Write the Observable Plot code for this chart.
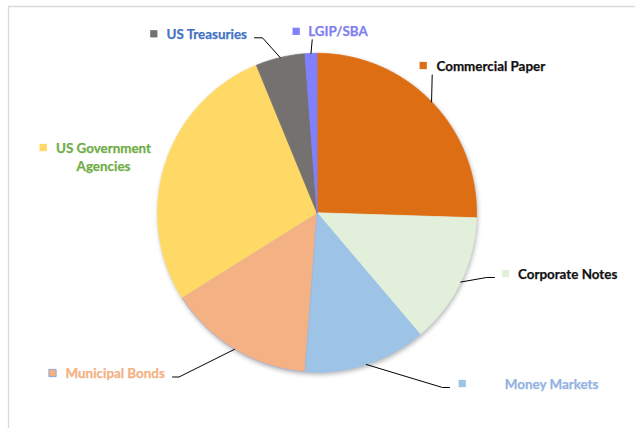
<!DOCTYPE html>
<html>
<head>
<meta charset="utf-8">
<script src="https://cdn.jsdelivr.net/npm/d3@7"></script>
<script src="https://cdn.jsdelivr.net/npm/@observablehq/plot@0.6"></script>
<style>
  html, body { margin: 0; padding: 0; background: #fff; }
  #chart { width: 635px; height: 428px; }
</style>
</head>
<body>
<div id="chart"></div>
<script>
// ---- data ----
const categories = ["Commercial Paper", "Corporate Notes", "Money Markets", "Municipal Bonds", "US Government Agencies", "US Treasuries", "LGIP/SBA"];
const shares = [25.5, 13.3, 12.4, 14.9, 27.7, 5.0, 1.2];
const sliceColors = ["#DD6E13", "#E2EFDA", "#9DC3E6", "#F4B183", "#FFD966", "#767171", "#8080FF"];
const sliceStrokes = ["#DD6E13", "#E2EFDA", "#9DC3E6", "#9DB4E4", "#FFD966", "#767171", "#8080FF"];
const labelColors = ["#111111", "#111111", "#94B2E2", "#F4B183", "#70AD47", "#4472C4", "#7F7FEF"];
const labelTexts = ["Commercial Paper", "Corporate Notes", "Money Markets", "Municipal Bonds", "US Government\nAgencies", "US Treasuries", "LGIP/SBA"];

// ---- layout (pixels) ----
const W = 635, H = 428;
const cx = 316.5, cy = 212.3, R = 159.5;
const layout = {
  "Commercial Paper":       {leader: [[431.7, 74.5]],              marker: [422.7, 65],    text: [436, 64],    anchor: "start"},
  "Corporate Notes":        {leader: [[486, 277], [494, 277]],     marker: [505, 273],     text: [517.5, 272], anchor: "start"},
  "Money Markets":          {leader: [[442, 387], [449, 387]],     marker: [461.7, 383],   text: [598, 382],   anchor: "end"},
  "Municipal Bonds":        {leader: [[178.5, 376.5], [172, 376.5]], marker: [52, 372.5],  text: [65, 371.5],  anchor: "start"},
  "US Government Agencies": {leader: null,                          marker: [42.7, 147],    text: [103, 155.4], anchor: "middle"},
  "US Treasuries":          {leader: [[262, 37.3], [254, 37.3]],   marker: [153.3, 33.3],  text: [166, 32.3],  anchor: "start"},
  "LGIP/SBA":               {leader: [[311.7, 39.3]],              marker: [295.7, 30.8],  text: [307.7, 29.8], anchor: "start"}
};

// ---- derived geometry from the data ----
const rows = categories.map((c, i) => ({name: c, value: shares[i], fill: sliceColors[i], stroke: sliceStrokes[i], label: labelTexts[i], labelColor: labelColors[i]}));
const arcs = d3.pie().sort(null).value(d => d.value).startAngle(0).endAngle(2 * Math.PI)(rows);

const px = a => cx + R * Math.sin(a);
const py = a => cy - R * Math.cos(a);

const slicePts = [];
for (const a of arcs) {
  const n = Math.max(2, Math.ceil((a.endAngle - a.startAngle) / (Math.PI / 360)));
  slicePts.push({name: a.data.name, x: cx, y: cy, fill: a.data.fill, stroke: a.data.stroke});
  for (let k = 0; k <= n; k++) {
    const t = a.startAngle + (a.endAngle - a.startAngle) * k / n;
    slicePts.push({name: a.data.name, x: px(t), y: py(t), fill: a.data.fill, stroke: a.data.stroke});
  }
  slicePts.push({name: a.data.name, x: cx, y: cy, fill: a.data.fill, stroke: a.data.stroke});
}

const leaderPts = [];
for (const a of arcs) {
  const L = layout[a.data.name];
  if (!L.leader) continue;
  const mid = (a.startAngle + a.endAngle) / 2;
  leaderPts.push({name: a.data.name, x: px(mid), y: py(mid)});
  for (const p of L.leader) leaderPts.push({name: a.data.name, x: p[0], y: p[1]});
}

const labels = rows.map(r => ({...r, mx: layout[r.name].marker[0], my: layout[r.name].marker[1], tx: layout[r.name].text[0], ty: layout[r.name].text[1], anchor: layout[r.name].anchor}));

const font = "Lato, 'Open Sans', sans-serif";

const chart = Plot.plot({
  width: W,
  height: H,
  margin: 0,
  x: {domain: [0, W], range: [0, W], axis: null},
  y: {domain: [0, H], range: [0, H], axis: null},
  color: {type: "identity"},
  style: {background: "#fff", fontFamily: font},
  marks: [
    // chart border (top and left visible)
    Plot.ruleY([6], {x1: 8, x2: W, stroke: "#D9D9D9", strokeWidth: 1.3}),
    Plot.ruleX([8], {y1: 6, y2: H, stroke: "#D9D9D9", strokeWidth: 1.3}),
    // pie slices
    Plot.line(slicePts, {x: "x", y: "y", z: "name", fill: "fill", stroke: "stroke", strokeWidth: 0.8, curve: "linear"}),
    // leader lines
    Plot.line(leaderPts, {x: "x", y: "y", z: "name", stroke: "#000", strokeWidth: 1, curve: "linear"}),
    // legend-style markers
    Plot.dot(labels, {x: "mx", y: "my", symbol: "square", r: 4.1, fill: "fill",
      stroke: d => d.name === "Municipal Bonds" ? "#8FAADC" : "fill", strokeWidth: d => d.name === "Municipal Bonds" ? 1 : 0}),
    // labels
    ...["start", "middle", "end"].map(anc => Plot.text(labels.filter(d => d.anchor === anc), {
      x: "tx", y: "ty", text: "label", fill: "labelColor", textAnchor: anc,
      fontSize: 13.4, fontWeight: "bold", fontFamily: font, lineHeight: 1.4,
      stroke: "labelColor", strokeWidth: 0.25
    }))
  ]
});

// subtle drop shadow under the pie
const groups = chart.querySelectorAll("g[aria-label='line']");
if (groups.length) groups[0].setAttribute("style", "filter: drop-shadow(1px 2px 2px rgba(0,0,0,0.28))");
// fix marker stroke for non-municipal (constant "fill" string fallback)
chart.querySelectorAll("g[aria-label='dot'] path").forEach(p => {
  if (p.getAttribute("stroke") === "fill") p.setAttribute("stroke", "none");
});

document.getElementById("chart").appendChild(chart);
</script>
</body>
</html>
